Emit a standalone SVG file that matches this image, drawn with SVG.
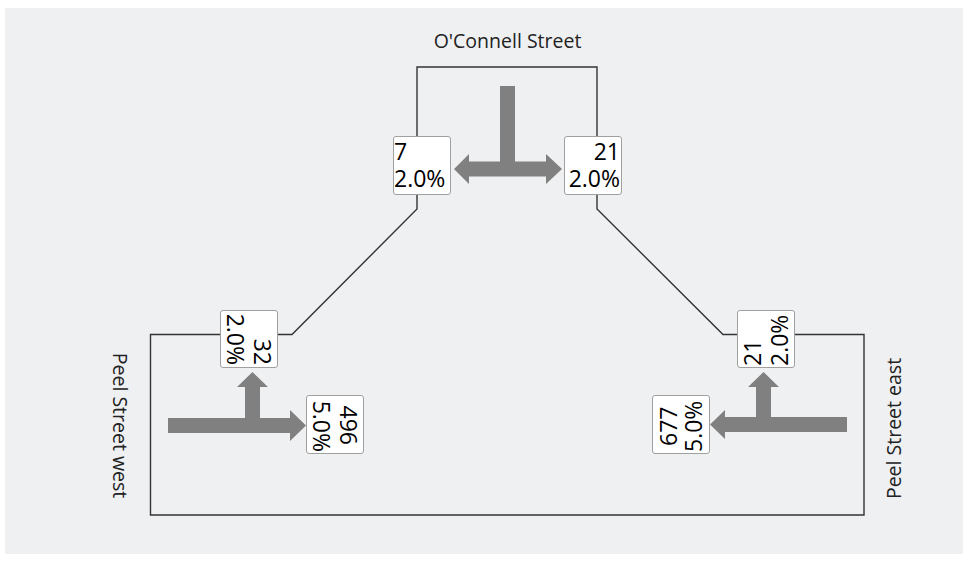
<svg xmlns="http://www.w3.org/2000/svg" width="968" height="562" viewBox="0 0 968 562">
<style>
.bg{fill:#EFF0F2}
.conn{fill:none;stroke:#333;stroke-width:1.4}
.arrow{fill:#808080}
.box{fill:#fff;stroke:#a0a0a0;stroke-width:1}
.num{font-family:"Open Sans","Noto Sans",sans-serif;font-size:23px;fill:#000}
.lbl{font-family:"Open Sans","Noto Sans",sans-serif;font-size:19.5px;fill:#222}
</style>
<rect class="bg" x="5" y="8" width="958" height="546"/>
<g id="connectors">
<path class="conn" d="M417,136 V67 H597 V136"/>
<path class="conn" d="M417,194 V209 L292,334.5 H278"/>
<path class="conn" d="M597,194 V209 L723,334.5 H737"/>
<path class="conn" d="M220,334.5 H150.5 V515 H864 V334.5 H795"/>
</g>
<g id="arrows">
<path class="arrow" d="M500,86 H515 V161.5 H546 V154 L562,169 L546,184 V176.5 H469 V184 L454,169 L469,154 V161.5 H500 Z"/>
<path class="arrow" d="M168,418 H245 V387 H237 L252.5,372 L268,387 H260 V418 H290 V410 L306,425.5 L290,441 V433 H168 Z"/>
<path class="arrow" d="M847,417 V432 H725 V439 L710,424.5 L725,410 V417 H756 V387 H748 L763.5,372 L779,387 H771 V417 Z"/>
</g>
<g id="labels">
<text class="lbl" x="507.5" y="47.5" text-anchor="middle">O'Connell Street</text>
<text class="lbl" transform="translate(113,425.5) rotate(90)" text-anchor="middle">Peel Street west</text>
<text class="lbl" transform="translate(901,428.5) rotate(-90)" text-anchor="middle">Peel Street east</text>
</g>
<g id="node-top-left" transform="translate(393,136)">
<rect class="box" x="0.5" y="0.5" width="57" height="58" rx="2.5"/>
<text class="num" x="1" y="24">7</text>
<text class="num" x="1" y="51">2.0%</text>
</g>
<g id="node-top-right" transform="translate(564,136)">
<rect class="box" x="0.5" y="0.5" width="57" height="58" rx="2.5"/>
<text class="num" x="56" y="24" text-anchor="end">21</text>
<text class="num" x="56" y="51" text-anchor="end">2.0%</text>
</g>
<g id="node-left" transform="translate(278,310) rotate(90)">
<rect class="box" x="0.5" y="0.5" width="57" height="57" rx="2.5"/>
<text class="num" x="55" y="24" text-anchor="end">32</text>
<text class="num" x="55" y="51" text-anchor="end">2.0%</text>
</g>
<g id="node-left-through" transform="translate(364,395) rotate(90)">
<rect class="box" x="0.5" y="0.5" width="58" height="57" rx="2.5"/>
<text class="num" x="50" y="24" text-anchor="end">496</text>
<text class="num" x="57" y="51" text-anchor="end">5.0%</text>
</g>
<g id="node-right" transform="translate(737,368) rotate(-90)">
<rect class="box" x="0.5" y="0.5" width="57" height="57" rx="2.5"/>
<text class="num" x="2" y="24">21</text>
<text class="num" x="2" y="51">2.0%</text>
</g>
<g id="node-right-through" transform="translate(652,454) rotate(-90)">
<rect class="box" x="0.5" y="0.5" width="58" height="57" rx="2.5"/>
<text class="num" x="8" y="25">677</text>
<text class="num" x="2" y="50">5.0%</text>
</g>
</svg>
